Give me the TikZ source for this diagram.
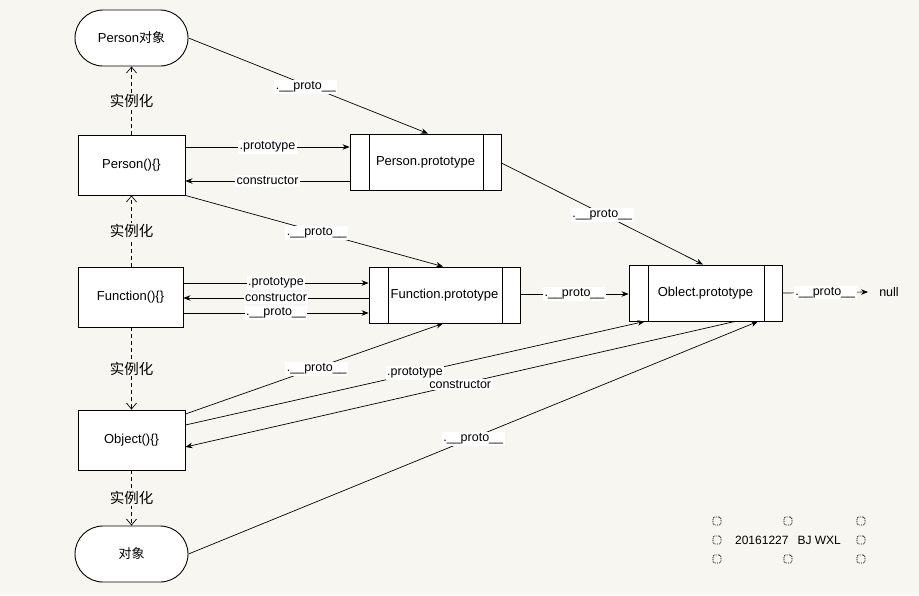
\documentclass[tikz,border=0pt]{standalone}
\usepackage{fontspec}
\setmainfont{Liberation Sans}
\newfontfamily\cjk{Noto Sans CJK SC}
\usetikzlibrary{arrows.meta,calc}
\definecolor{bgc}{RGB}{248,246,240}
\begin{document}
\begin{tikzpicture}[x=1pt,y=-1pt,
  every node/.style={font=\fontsize{13}{15}\selectfont},
  box/.style={draw, fill=white, line width=0.9pt, minimum width=107pt, minimum height=60pt, inner sep=0pt},
  stad/.style={draw, fill=white, line width=0.9pt, rounded corners=28pt, minimum width=113pt, minimum height=56pt, inner sep=0pt},
  protobox/.style={draw, fill=white, line width=0.9pt, minimum width=152pt, minimum height=56pt, inner sep=0pt,
    path picture={
      \draw[line width=0.9pt] ([xshift=19pt]path picture bounding box.north west) -- ([xshift=19pt]path picture bounding box.south west);
      \draw[line width=0.9pt] ([xshift=-18pt]path picture bounding box.north east) -- ([xshift=-18pt]path picture bounding box.south east);}},
  arr/.style={-{Stealth[length=7pt,width=5.5pt]}, line width=0.7pt},
  inst/.style={dash pattern=on 4pt off 3pt, -{Straight Barb[length=6pt,width=10pt]}, line width=0.7pt},
  lbl/.style={fill=white, inner sep=1.5pt, font=\fontsize{12.5}{14}\selectfont},
  ilbl/.style={fill=bgc, inner sep=1pt, font=\cjk\fontsize{14.5}{16}\selectfont},
  hdl/.style={draw, dash pattern=on 0.9pt off 0.9pt, line width=0.8pt, rounded corners=2pt, minimum size=8pt, inner sep=0pt}
]
\fill[bgc] (0,0) rectangle (919,595);
\useasboundingbox (0,0) rectangle (919,595);

% nodes
\node[stad] (po) at (131.5,38) {Person{\cjk 对象}};
\node[box] (pf) at (131.5,165) {Person()\{\}};
\node[box, minimum width=105pt] (ff) at (130.5,297) {Function()\{\}};
\node[box] (of) at (131.5,440) {Object()\{\}};
\node[stad] (oo) at (131.5,554) {\cjk 对象};
\node[protobox, minimum width=151pt] (pp) at (425.5,162) {Person.prototype};
\node[protobox, minimum width=151pt] (fp) at (444.5,295) {Function.prototype};
\node[protobox, minimum width=153pt] (op) at (705.5,293) {Oblect.prototype};
\node[inner sep=3pt, font=\fontsize{12.5}{14}\selectfont] (nl) at (889,292) {null};

% instantiation arrows
\draw[inst] (pf.north) -- node[ilbl]{实例化} (po.south);
\draw[inst] (pf.south |- ff.north) -- node[ilbl]{实例化} (pf.south);
\draw[inst] (of.north |- ff.south) -- node[ilbl]{实例化} (of.north);
\draw[inst] (of.south) -- node[ilbl]{实例化} (oo.north);

% Person row
\draw[arr] (po.east) -- node[lbl,pos=0.49,yshift=-2pt]{.\_\_proto\_\_} ([xshift=2.5pt]pp.north);
\draw[arr] ([yshift=18pt]pf.east) -- node[lbl]{.prototype} ([yshift=15pt]pp.west);
\draw[arr] ([yshift=-19pt]pp.west) -- node[lbl]{constructor} ([yshift=-16pt]pf.east);
\draw[arr] (pf.south east) -- node[lbl,pos=0.51,yshift=-1pt]{.\_\_proto\_\_} ([xshift=-1.5pt]fp.north);
\draw[arr] ([yshift=-1pt]pp.east) -- node[lbl,yshift=-1pt]{.\_\_proto\_\_} ([xshift=-2.5pt]op.north);

% Function row
\draw[arr] ([yshift=14pt]ff.east) -- node[lbl]{.prototype} ([yshift=12pt]fp.west);
\draw[arr] ([yshift=-3pt]fp.west) -- node[lbl]{constructor} ([yshift=-1pt]ff.east);
\draw[arr] ([yshift=-16pt]ff.east) -- node[lbl]{.\_\_proto\_\_} ([yshift=-18pt]fp.west);
\draw[arr] ([yshift=1pt]fp.east) -- node[lbl]{.\_\_proto\_\_} ([yshift=-1pt]op.west);
\draw[arr] (op.east) -- node[lbl]{.\_\_proto\_\_} ([xshift=-8pt]nl.west);

% Object row
\draw[arr] ([yshift=26pt]of.east) -- node[lbl,pos=0.51,yshift=-1pt]{.\_\_proto\_\_} ([xshift=-1.5pt]fp.south);
\draw[arr] ([yshift=15pt]of.east) -- node[lbl]{.prototype} ([xshift=16pt]op.south west);
\draw[arr] ([xshift=29.5pt]op.south) -- node[lbl]{constructor} ([yshift=-7pt]of.east);
\draw[arr] (oo.east) -- node[lbl,yshift=-1pt]{.\_\_proto\_\_} ([xshift=52.5pt]op.south);

% annotation with selection handles
\node[font=\fontsize{12}{14}\selectfont] (note) at (788,540) {20161227\hspace{9pt}BJ WXL};
\node[hdl] (h1) at (717,521) {};
\node[hdl] (h2) at (788,521) {};
\node[hdl] (h3) at (861,521) {};
\node[hdl] (h4) at (717,540) {};
\node[hdl] (h5) at (861,540) {};
\node[hdl] (h6) at (717,559) {};
\node[hdl] (h7) at (788,559) {};
\node[hdl] (h8) at (861,559) {};
\end{tikzpicture}
\end{document}
